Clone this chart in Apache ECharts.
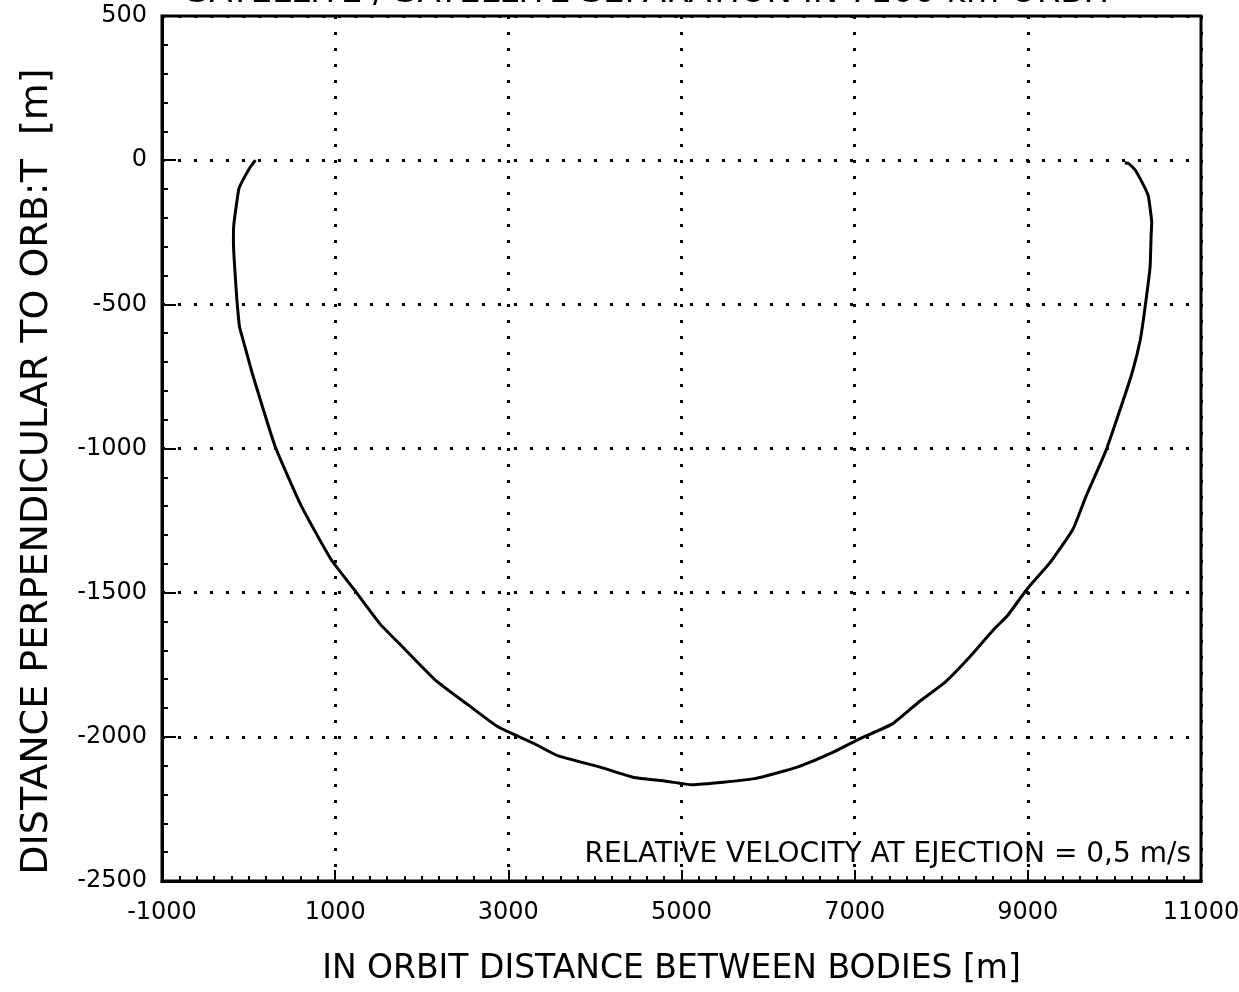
<!DOCTYPE html>
<html>
<head>
<meta charset="utf-8">
<title>Satellite separation</title>
<script src="https://cdn.jsdelivr.net/npm/echarts@6/dist/echarts.min.js"></script>
<style>
html, body { margin: 0; padding: 0; background: #fff; }
#main { width: 1239px; height: 992px; }
</style>
</head>
<body>
<div id="main"></div>
<script>
// axis ticks [m]
var xTicks = [-1000, 1000, 3000, 5000, 7000, 9000, 11000];
var yTicks = [-2500, -2000, -1500, -1000, -500, 0, 500];

// trajectory [m]
var pathX = [79, 22, -55, -111, -149, -172, -175, -168, -150, -135, -105, -30, 41, 306, 610, 951,
             1216, 1520, 1785, 2164, 2544, 2885, 3302, 3568, 4060, 4439, 4819, 5122,
             5843, 6336, 6753, 7056, 7436, 7738, 8042, 8307, 8611, 8764, 8990, 9256,
             9521, 9673, 9900, 10052, 10204, 10299, 10355, 10412, 10424, 10431, 10393,
             10355, 10242, 10166, 10120];
var pathY = [0, -23, -63, -98, -173, -230, -280, -335, -420, -484, -577, -660, -738, -992, -1200, -1384,
             -1488, -1609, -1690, -1805, -1891, -1966, -2024, -2065, -2105, -2140, -2154, -2166,
             -2145, -2105, -2053, -2007, -1955, -1880, -1811, -1730, -1626, -1580, -1488, -1396,
             -1280, -1165, -1009, -877, -738, -623, -508, -369, -260, -219, -127,
             -98, -35, -12, -9];

var titleText = 'SATELLITE / SATELLITE SEPARATION IN 7100 km ORBIT';
var noteText = 'RELATIVE VELOCITY AT EJECTION = 0,5 m/s';
var xName = 'IN ORBIT DISTANCE BETWEEN BODIES [m]';
var yName = 'DISTANCE PERPENDICULAR TO ORB:T  [m]';

function separationChart(elementId) {
    var font = 'DejaVu Sans';
    var pathData = [];
    for (var i = 0; i < pathX.length; i++) {
        pathData.push([pathX[i], pathY[i]]);
    }
    var gridDots = { color: '#000', width: 3, type: [3, 13] };
    var plainNumber = function (v) { return String(v); };

    var chartOption = {
        animation: false,
        backgroundColor: '#fff',
        title: [
            {
                text: titleText,
                left: 187,
                top: -24,
                padding: 0,
                textStyle: { fontFamily: font, fontSize: 34, fontWeight: 'normal', color: '#000' }
            },
            {
                text: noteText,
                right: 48,
                top: 841,
                padding: 0,
                textStyle: { fontFamily: font, fontSize: 28, fontWeight: 'normal', color: '#000' }
            }
        ],
        grid: {
            left: 162,
            right: 38,
            top: 16,
            bottom: 111,
            show: true,
            borderColor: '#000',
            borderWidth: 3,
            outerBoundsMode: 'none'
        },
        xAxis: {
            type: 'value',
            min: xTicks[0],
            max: xTicks[xTicks.length - 1],
            interval: xTicks[1] - xTicks[0],
            axisLine: { show: true, onZero: false, lineStyle: { color: '#000', width: 3 } },
            axisTick: { show: true, inside: true, length: 11, lineStyle: { color: '#000', width: 2 } },
            minorTick: { show: true, splitNumber: 10, length: 5, lineStyle: { color: '#000', width: 2 } },
            axisLabel: { margin: 20, color: '#000', fontFamily: font, fontSize: 24, showMinLabel: true, showMaxLabel: true, formatter: plainNumber },
            splitLine: { show: true, lineStyle: gridDots },
            name: xName,
            nameLocation: 'middle',
            nameGap: 72,
            nameTextStyle: { color: '#000', fontFamily: font, fontSize: 33, padding: [0, 20, 0, 0] }
        },
        yAxis: {
            type: 'value',
            min: yTicks[0],
            max: yTicks[yTicks.length - 1],
            interval: yTicks[1] - yTicks[0],
            axisLine: { show: true, onZero: false, lineStyle: { color: '#000', width: 3 } },
            axisTick: { show: true, inside: true, length: 14, lineStyle: { color: '#000', width: 2 } },
            minorTick: { show: true, splitNumber: 5, length: 6, lineStyle: { color: '#000', width: 2 } },
            axisLabel: { margin: 15, color: '#000', fontFamily: font, fontSize: 24, showMinLabel: true, showMaxLabel: true, formatter: plainNumber },
            splitLine: { show: true, lineStyle: gridDots },
            name: yName,
            nameLocation: 'middle',
            nameGap: 106,
            nameTextStyle: { color: '#000', fontFamily: font, fontSize: 38, padding: [0, 46, 0, 0] }
        },
        series: [
            {
                name: 'separation',
                type: 'line',
                data: pathData,
                smooth: 0.15,
                showSymbol: false,
                lineStyle: { color: '#000', width: 3 }
            }
        ]
    };

    var domMain = document.getElementById(elementId);
    var chart = echarts.init(domMain);
    chart.setOption(chartOption, false);
}

separationChart('main');
</script>
</body>
</html>
